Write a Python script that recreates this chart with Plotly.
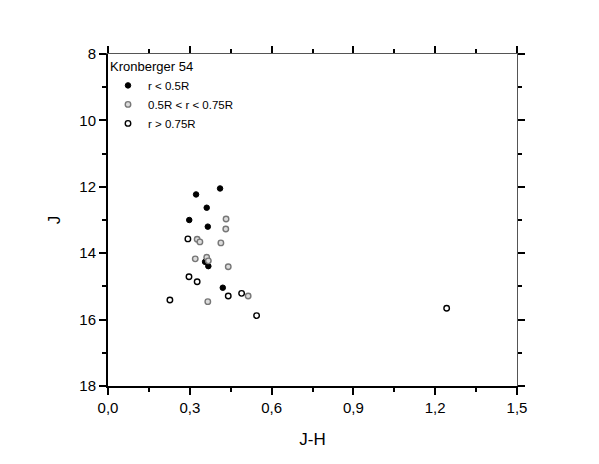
import plotly.graph_objects as go

inner_jh = [0.411, 0.323, 0.362, 0.298, 0.366, 0.356, 0.368, 0.421]
inner_j = [12.05, 12.23, 12.63, 13.00, 13.20, 14.26, 14.39, 15.04]

mid_jh = [0.433, 0.432, 0.327, 0.337, 0.414, 0.320, 0.362, 0.368, 0.441, 0.366, 0.514]
mid_j = [12.97, 13.27, 13.58, 13.66, 13.69, 14.17, 14.12, 14.23, 14.41, 15.46, 15.29]

outer_jh = [0.293, 0.297, 0.327, 0.490, 0.227, 0.545, 1.242, 0.441]
outer_j = [13.57, 14.71, 14.86, 15.21, 15.41, 15.88, 15.66, 15.29]

x_ticks = [0.0, 0.3, 0.6, 0.9, 1.2, 1.5]
y_ticks = [8, 10, 12, 14, 16, 18]

font = "Liberation Sans, Arial, sans-serif"

fig = go.Figure()
fig.add_trace(go.Scatter(x=inner_jh, y=inner_j, mode="markers", name="r < 0.5R",
                         marker=dict(symbol="circle", size=5.5, color="black",
                                     line=dict(color="black", width=1))))
fig.add_trace(go.Scatter(x=mid_jh, y=mid_j, mode="markers", name="0.5R < r < 0.75R",
                         marker=dict(symbol="circle", size=5.5, color="#dcdcdc",
                                     line=dict(color="#777777", width=1.4))))
fig.add_trace(go.Scatter(x=outer_jh, y=outer_j, mode="markers", name="r > 0.75R",
                         marker=dict(symbol="circle", size=5.5, color="white",
                                     line=dict(color="black", width=1.4))))
# dummy trace so the top/right frame axes get drawn
fig.add_trace(go.Scatter(x=[None], y=[None], xaxis="x2", yaxis="y2",
                         showlegend=False, hoverinfo="skip"))

axis_common = dict(showgrid=False, zeroline=False, ticks="outside", automargin=False,
                   tickcolor="black", ticklen=7, tickwidth=1.5,
                   tickfont=dict(family=font, size=15, color="black"),
                   minor=dict(ticks="outside", ticklen=4, tickwidth=1.5,
                              tickcolor="black", showgrid=False))

# page body adds an 8px offset, margins account for it
fig.update_layout(
    width=599, height=464,
    paper_bgcolor="white", plot_bgcolor="white",
    margin=dict(l=100, r=90, t=46, b=86),
    separators=",.",
    font=dict(family=font, color="black"),
    xaxis=dict(axis_common, range=[0, 1.5], tickvals=x_ticks, tickformat=".1f",
               showline=True, linecolor="black", linewidth=2,
               minor=dict(axis_common["minor"], dtick=0.15),
               title=dict(text="J-H", font=dict(family=font, size=17), standoff=18)),
    yaxis=dict(axis_common, range=[18, 8], tickvals=y_ticks,
               showline=True, linecolor="black", linewidth=2,
               minor=dict(axis_common["minor"], dtick=1),
               title=dict(text="J", font=dict(family=font, size=17), standoff=14)),
    xaxis2=dict(axis_common, overlaying="x", side="top", range=[0, 1.5],
                tickvals=x_ticks, showticklabels=False, showline=True,
                linecolor="#555555", linewidth=1,
                minor=dict(axis_common["minor"], dtick=0.15)),
    yaxis2=dict(axis_common, overlaying="y", side="right", range=[18, 8],
                tickvals=y_ticks, showticklabels=False, showline=True,
                linecolor="#555555", linewidth=1,
                minor=dict(axis_common["minor"], dtick=1)),
    legend=dict(x=0.0, y=1.0, xanchor="left", yanchor="top",
                bgcolor="rgba(0,0,0,0)", borderwidth=0,
                font=dict(family=font, size=11.5, color="black"),
                title=dict(text="Kronberger 54", side="top",
                           font=dict(family=font, size=13, color="black")),
                itemsizing="trace", tracegroupgap=0),
)

fig.write_html("out.html")
